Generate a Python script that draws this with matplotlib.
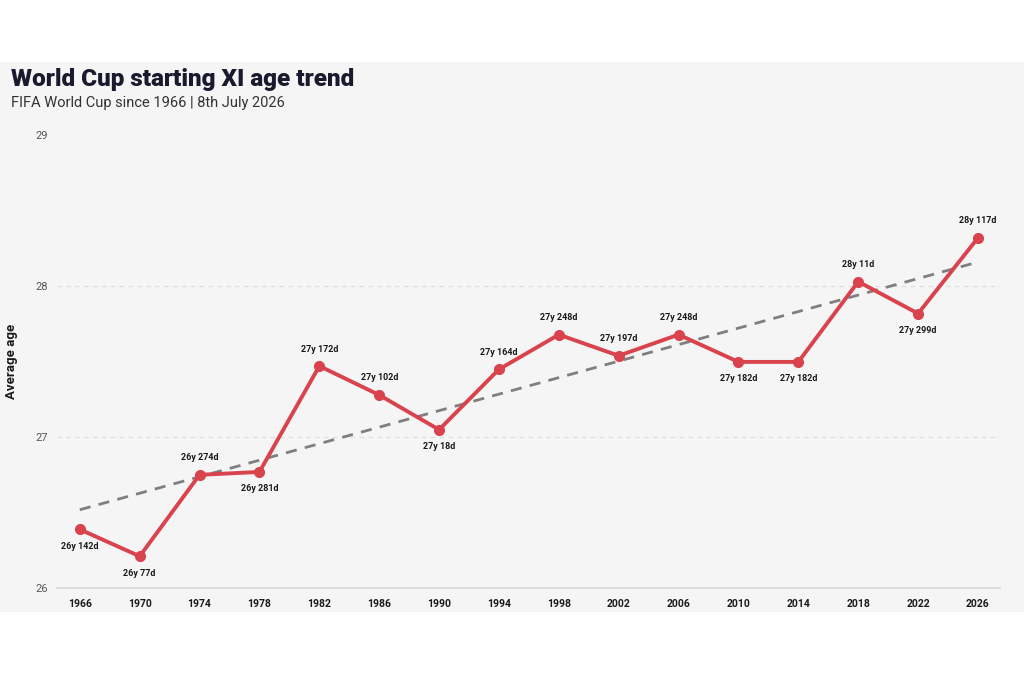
import numpy as np
import matplotlib.pyplot as plt
from matplotlib.patches import Rectangle

plt.rcParams['font.family'] = ['Roboto', 'DejaVu Sans']

# Данные: средний возраст стартового состава
years = [1966, 1970, 1974, 1978, 1982, 1986, 1990, 1994, 1998, 2002, 2006, 2010, 2014, 2018, 2022, 2026]
age_y = [26, 26, 26, 26, 27, 27, 27, 27, 27, 27, 27, 27, 27, 28, 27, 28]
age_d = [142, 77, 274, 281, 172, 102, 18, 164, 248, 197, 248, 182, 182, 11, 299, 117]
label_above = [False, False, True, False, True, True, False, True, True, True, True, False, False, True, False, True]

ages = np.array(age_y) + np.array(age_d) / 365.25
labels = [f'{y}y {d}d' for y, d in zip(age_y, age_d)]

fig = plt.figure(figsize=(10.24, 6.83), dpi=100)
fig.patch.set_facecolor('white')
# серая подложка
fig.add_artist(Rectangle((0, 0.104), 1, 0.805, transform=fig.transFigure,
                         facecolor='#f5f5f5', edgecolor='none', zorder=0))

ax = fig.add_axes([0.056, 0.139, 0.921, 0.663])
ax.set_facecolor('none')

# линия тренда
coef = np.polyfit(years, ages, 1)
ax.plot([years[0], years[-1]], np.polyval(coef, [years[0], years[-1]]),
        color='#7f7f7f', lw=2, ls=(0, (4, 3)), zorder=2)

ax.plot(years, ages, color='#d9434e', lw=2.8, marker='o', ms=7,
        markerfacecolor='#d9434e', markeredgecolor='#d9434e', zorder=3)

for x, a, lab, up in zip(years, ages, labels, label_above):
    ax.annotate(lab, (x, a), xytext=(0, 9 if up else -9), textcoords='offset points',
                ha='center', va='bottom' if up else 'top', fontsize=6.5,
                fontweight='bold', color='#1a1a1a')

ax.set_xlim(1964.5, 2027.5)
ax.set_ylim(26, 29)
ax.set_xticks(years)
ax.set_xticklabels([str(y) for y in years], fontsize=7.5, fontweight='bold', color='#1a1a1a')
ax.set_yticks([26, 27, 28, 29])
ax.set_yticklabels(['26', '27', '28', '29'], fontsize=8, color='#555555')
ax.tick_params(length=0, pad=8)
ax.tick_params(axis='y', pad=7)

for v in [27, 28]:
    ax.axhline(v, color='#dddddd', lw=0.8, ls=(0, (4, 4)), zorder=1)

for s in ['top', 'right', 'left']:
    ax.spines[s].set_visible(False)
ax.spines['bottom'].set_color('#d6d6d6')
ax.spines['bottom'].set_linewidth(1.2)

ax.set_ylabel('Average age', fontsize=9.5, fontweight='bold', color='#1a1a1a')
ax.yaxis.set_label_coords(-0.042, 0.5)

fig.text(0.011, 0.883, 'World Cup starting XI age trend', fontsize=17.5, fontweight='black',
         color='#1a1a2e', va='center')
fig.text(0.011, 0.849, 'FIFA World Cup since 1966 | 8th July 2026', fontsize=10.5,
         color='#333333', va='center')

fig.savefig('out.png', dpi=100)
